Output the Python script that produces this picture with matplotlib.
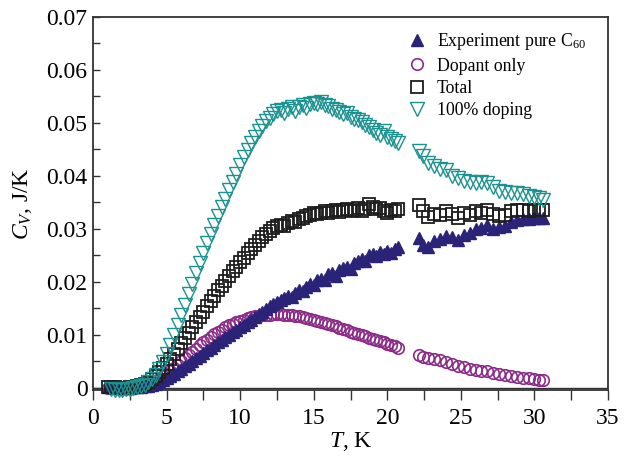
import numpy as np
import matplotlib
matplotlib.use('Agg')
import matplotlib.pyplot as plt
from matplotlib.ticker import MultipleLocator, FuncFormatter

plt.rcParams['font.family'] = ['Liberation Serif', 'DejaVu Serif']
plt.rcParams['mathtext.fontset'] = 'custom'
plt.rcParams['mathtext.rm'] = 'Liberation Serif'
plt.rcParams['mathtext.it'] = 'Liberation Serif:italic'

# temperatures, K (measurement gap between ~20.8 and ~22.1 K)
T_pre = [1.00, 1.25, 1.50, 1.75, 2.00, 2.25, 2.50, 2.75, 3.00, 3.25,
         3.50, 3.75, 4.00, 4.25, 4.50, 4.75, 5.00, 5.25, 5.50, 5.75,
         6.00, 6.25, 6.50, 6.75, 7.00, 7.25, 7.50, 7.75, 8.00, 8.25,
         8.50, 8.75, 9.00, 9.25, 9.50, 9.75, 10.00, 10.25, 10.50, 10.75,
         11.00, 11.25, 11.50, 11.75, 12.00, 12.25, 12.50, 12.75, 13.00, 13.25,
         13.50, 13.75, 14.00, 14.25, 14.50, 14.75, 15.00, 15.25, 15.50, 15.75,
         16.00, 16.25, 16.50, 16.75, 17.00, 17.25, 17.50, 17.75, 18.00, 18.25,
         18.50, 18.75, 19.00, 19.25, 19.50, 19.75, 20.00, 20.25, 20.50, 20.75]
T_post = [22.15, 22.45, 22.8, 23.2, 23.6, 24.0, 24.4, 24.8, 25.2, 25.6,
          26.0, 26.4, 26.8, 27.2, 27.6, 28.0, 28.4, 28.8, 29.2, 29.6,
          30.0, 30.3, 30.55]

exp_pre = [0.0002, 0.0001, 0.0001, 0.0000, 0.0000, 0.0000, 0.0000, 0.0001, 0.0001, 0.0002,
           0.0003, 0.0004, 0.0006, 0.0008, 0.0011, 0.0014, 0.0018, 0.0022, 0.0026, 0.0031,
           0.0036, 0.0041, 0.0046, 0.0051, 0.0056, 0.0061, 0.0066, 0.0071, 0.0076, 0.0081,
           0.0086, 0.0091, 0.0096, 0.0100, 0.0105, 0.0110, 0.0114, 0.0119, 0.0124, 0.0129,
           0.0134, 0.0139, 0.0144, 0.0149, 0.0154, 0.0159, 0.0162, 0.0166, 0.0170, 0.0174,
           0.0172, 0.0180, 0.0184, 0.0182, 0.0191, 0.0196, 0.0194, 0.0203, 0.0206, 0.0204,
           0.0214, 0.0216, 0.0212, 0.0222, 0.0226, 0.0228, 0.0225, 0.0235, 0.0240, 0.0243,
           0.0239, 0.0250, 0.0252, 0.0248, 0.0256, 0.0253, 0.0258, 0.0254, 0.0262, 0.0266]
exp_post = [0.0283, 0.0270, 0.0266, 0.0277, 0.0281, 0.0286, 0.0284, 0.0279, 0.0288, 0.0292,
            0.0299, 0.0302, 0.0308, 0.0300, 0.0303, 0.0306, 0.0313, 0.0316, 0.0318, 0.0318,
            0.0320, 0.0321, 0.0320]

dop_pre = [0.0000, 0.0000, 0.0000, 0.0000, 0.0000, 0.0000, 0.0001, 0.0001, 0.0002, 0.0003,
           0.0005, 0.0007, 0.0010, 0.0013, 0.0017, 0.0022, 0.0027, 0.0032, 0.0038, 0.0044,
           0.0050, 0.0056, 0.0062, 0.0068, 0.0074, 0.0080, 0.0086, 0.0091, 0.0096, 0.0101,
           0.0106, 0.0110, 0.0114, 0.0118, 0.0121, 0.0124, 0.0127, 0.0129, 0.0131, 0.0133,
           0.0135, 0.0136, 0.0137, 0.0138, 0.0138, 0.0139, 0.0139, 0.0139, 0.0138, 0.0138,
           0.0137, 0.0136, 0.0135, 0.0133, 0.0132, 0.0130, 0.0128, 0.0126, 0.0124, 0.0122,
           0.0120, 0.0118, 0.0116, 0.0113, 0.0111, 0.0109, 0.0106, 0.0104, 0.0102, 0.0100,
           0.0097, 0.0094, 0.0092, 0.0090, 0.0088, 0.0086, 0.0083, 0.0081, 0.0079, 0.0076]
dop_post = [0.0062, 0.0059, 0.0056, 0.0054, 0.0052, 0.0049, 0.0046, 0.0042, 0.0039, 0.0036,
            0.0034, 0.0032, 0.0031, 0.0029, 0.0027, 0.0025, 0.0023, 0.0021, 0.0019, 0.0018,
            0.0016, 0.0015, 0.0014]

tot_pre = [0.0002, 0.0001, 0.0001, 0.0000, 0.0000, 0.0000, 0.0001, 0.0002, 0.0003, 0.0005,
           0.0008, 0.0012, 0.0017, 0.0023, 0.0030, 0.0038, 0.0046, 0.0055, 0.0064, 0.0074,
           0.0084, 0.0094, 0.0104, 0.0114, 0.0124, 0.0134, 0.0144, 0.0154, 0.0164, 0.0174,
           0.0184, 0.0193, 0.0202, 0.0211, 0.0220, 0.0229, 0.0238, 0.0246, 0.0254, 0.0262,
           0.0270, 0.0277, 0.0284, 0.0290, 0.0296, 0.0301, 0.0305, 0.0308, 0.0306, 0.0312,
           0.0315, 0.0313, 0.0319, 0.0321, 0.0324, 0.0327, 0.0330, 0.0329, 0.0331, 0.0334,
           0.0330, 0.0333, 0.0336, 0.0332, 0.0335, 0.0337, 0.0333, 0.0336, 0.0340, 0.0334,
           0.0338, 0.0348, 0.0341, 0.0337, 0.0340, 0.0334, 0.0331, 0.0336, 0.0333, 0.0337]
tot_post = [0.0345, 0.0333, 0.0323, 0.0329, 0.0326, 0.0333, 0.0328, 0.0321, 0.0330, 0.0326,
            0.0333, 0.0330, 0.0336, 0.0329, 0.0324, 0.0327, 0.0333, 0.0336, 0.0336, 0.0334,
            0.0336, 0.0335, 0.0335]

dop100_pre = [np.nan, -0.0003, -0.0004, -0.0004, -0.0004, -0.0003, -0.0002, -0.0001, 0.0001, 0.0003,
              0.0006, 0.0011, 0.0017, 0.0025, 0.0035, 0.0048, 0.0064, 0.0081, 0.0099, 0.0118,
              0.0137, 0.0157, 0.0177, 0.0197, 0.0217, 0.0236, 0.0255, 0.0273, 0.0291, 0.0308,
              0.0325, 0.0341, 0.0357, 0.0373, 0.0388, 0.0404, 0.0420, 0.0435, 0.0449, 0.0462,
              0.0474, 0.0485, 0.0495, 0.0503, 0.0510, 0.0516, 0.0522, 0.0525, 0.0519, 0.0526,
              0.0530, 0.0523, 0.0531, 0.0533, 0.0529, 0.0536, 0.0538, 0.0535, 0.0539, 0.0534,
              0.0532, 0.0527, 0.0524, 0.0520, 0.0516, 0.0519, 0.0511, 0.0508, 0.0505, 0.0501,
              0.0497, 0.0493, 0.0486, 0.0481, 0.0478, 0.0484, 0.0474, 0.0470, 0.0466, 0.0462]
dop100_post = [0.0447, 0.0438, 0.0425, 0.0419, 0.0414, 0.0412, 0.0400, 0.0396, 0.0391, 0.0389,
               0.0387, 0.0388, 0.0386, 0.0380, 0.0372, 0.0370, 0.0368, 0.0367, 0.0365, 0.0363,
               0.0361, 0.0358, 0.0355]

T = T_pre + T_post
exp_c60 = exp_pre + exp_post
dopant = dop_pre + dop_post
total = tot_pre + tot_post
doping100 = dop100_pre + dop100_post

navy = '#2b2377'
purple = '#8c2a88'
black = '#1e1e1e'
teal = '#1b9190'

fig = plt.figure(figsize=(6.24, 4.57), dpi=100)
ax = fig.add_axes([93/624, 67/457, 515/624, 373/457])

ax.axhline(0, color='#333333', lw=1.0, zorder=1)

ax.plot(T, dopant, 'o', ms=8.3, mfc='none', mec=purple, mew=1.2,
        label='Dopant only', zorder=3, clip_on=False)
ax.plot(T, exp_c60, '^', ms=9, color=navy, mec=navy,
        label=r'Experiment pure C$_{60}$', zorder=4, clip_on=False)
ax.plot(T, total, 's', ms=8.3, mfc='none', mec=black, mew=1.3,
        label='Total', zorder=5, clip_on=False)
ax.plot(T, doping100, 'v', ms=10.5, mfc='none', mec=teal, mew=1.0,
        label='100% doping', zorder=6, clip_on=False)

ax.set_xlim(0, 35)
ax.set_ylim(-0.0004, 0.07)
ax.xaxis.set_major_locator(MultipleLocator(5))
ax.xaxis.set_minor_locator(MultipleLocator(2.5))
ax.yaxis.set_major_locator(MultipleLocator(0.01))
ax.yaxis.set_minor_locator(MultipleLocator(0.005))
ax.yaxis.set_major_formatter(FuncFormatter(lambda v, p: '0' if abs(v) < 1e-9 else '%.2f' % v))

ax.tick_params(axis='x', which='both', direction='out', length=7, width=1.0,
               color='#333333', labelsize=17, pad=6)
ax.tick_params(axis='y', which='both', direction='in', length=5, width=1.0,
               color='#333333', labelsize=17, pad=4)
ax.tick_params(top=False, right=False)
for s in ax.spines.values():
    s.set_color('#333333')
    s.set_linewidth(1.3)

ax.set_xlabel(r'$T$, K', fontsize=17, labelpad=1)
ax.set_ylabel(r'$C_V$, J/K', fontsize=17, labelpad=9)

h, l = ax.get_legend_handles_labels()
order = [1, 0, 2, 3]
ax.legend([h[i] for i in order], [l[i] for i in order], loc='upper right',
          frameon=False, fontsize=12.8, handlelength=1.0, handletextpad=0.6,
          labelspacing=0.3, borderaxespad=0.4, bbox_to_anchor=(0.985, 1.0))

fig.savefig('out.png', dpi=100)
